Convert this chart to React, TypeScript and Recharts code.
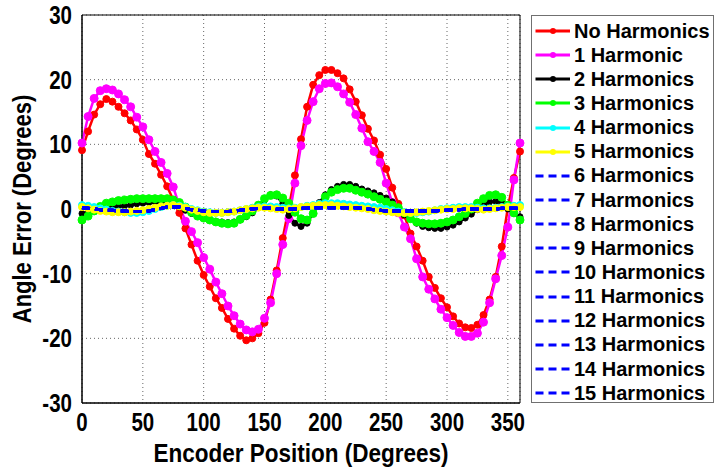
import { LineChart, Line, XAxis, YAxis, CartesianGrid, ReferenceArea } from "recharts"

const positions = [
  0, 5, 10, 15, 20, 25, 30, 35, 40, 45, 50, 55,
  60, 65, 70, 75, 80, 85, 90, 95, 100, 105, 110, 115,
  120, 125, 130, 135, 140, 145, 150, 155, 160, 165, 170, 175,
  180, 185, 190, 195, 200, 205, 210, 215, 220, 225, 230, 235,
  240, 245, 250, 255, 260, 265, 270, 275, 280, 285, 290, 295,
  300, 305, 310, 315, 320, 325, 330, 335, 340, 345, 350, 355,
  360,
]

const noHarmonics = [
  9.1, 12.0, 14.6, 16.2, 17.0, 16.6, 15.8, 14.8, 13.7, 12.3, 10.7, 8.5,
  7.0, 5.3, 3.5, 1.4, -0.6, -3.0, -5.5, -8.0, -10.2, -12.0, -13.8, -15.3,
  -17.0, -18.5, -19.6, -20.3, -20.0, -19.2, -17.6, -14.0, -9.5, -4.5, 0.2, 5.2,
  10.8, 15.8, 19.2, 20.7, 21.5, 21.5, 21.0, 20.2, 18.5, 16.6, 14.5, 12.4,
  10.6, 8.4, 6.2, 3.3, 0.8, -1.0, -3.8, -5.8, -8.0, -10.5, -12.2, -13.8,
  -15.2, -16.6, -17.7, -18.3, -18.4, -17.9, -16.4, -14.0, -10.5, -5.8, 0.2, 4.8,
  8.9,
]

const oneHarmonic = [
  10.2, 14.3, 17.1, 18.3, 18.6, 18.4, 17.8, 16.9, 15.8, 14.2, 12.7, 10.7,
  8.9, 7.2, 5.5, 3.4, 0.5, -1.9, -3.5, -5.2, -7.5, -9.3, -11.3, -13.1,
  -15.0, -16.5, -17.8, -18.7, -19.0, -18.6, -16.9, -14.5, -10.0, -5.5, -1.5, 4.0,
  9.8, 13.7, 16.6, 18.6, 19.4, 19.5, 18.9, 17.8, 16.5, 14.6, 12.5, 10.4,
  8.9, 7.2, 4.0, 1.0, -0.6, -2.8, -4.6, -7.7, -10.5, -12.4, -13.9, -15.5,
  -16.8, -18.0, -19.1, -19.7, -19.7, -19.2, -17.5, -14.5, -10.8, -7.2, -2.8, 4.5,
  10.2,
]

const twoHarmonics = [
  -0.7, -0.5, -0.2, 0.0, 0.2, 0.3, 0.4, 0.5, 0.6, 0.8, 0.9, 1.0,
  1.1, 1.1, 1.0, 0.7, 0.3, -0.2, -0.7, -1.1, -1.4, -1.7, -1.9, -2.0,
  -2.1, -2.0, -1.7, -1.2, -0.6, 0.3, 1.4, 2.2, 2.0, 0.8, -1.0, -2.2,
  -2.7, -2.2, -0.6, 1.0, 2.2, 3.0, 3.5, 3.8, 3.8, 3.5, 3.1, 2.8,
  2.5, 2.1, 1.7, 1.1, 0.1, -0.9, -1.5, -2.2, -2.7, -2.9, -3.0, -3.0,
  -2.8, -2.5, -2.0, -1.4, -0.8, -0.1, 0.6, 1.1, 1.2, 0.9, 0.0, -0.7,
  -1.2,
]

const threeHarmonics = [
  -1.7, -1.1, -0.3, 0.4, 0.9, 1.1, 1.3, 1.4, 1.5, 1.6, 1.6, 1.6,
  1.6, 1.6, 1.6, 1.4, 1.0, 0.3, -0.5, -1.1, -1.4, -1.7, -2.0, -2.2,
  -2.3, -2.2, -1.6, -1.0, -0.3, 0.6, 1.6, 2.1, 2.2, 1.7, 0.9, -0.5,
  -1.5, -1.7, -0.7, 0.6, 1.9, 2.6, 3.0, 3.2, 3.2, 2.9, 2.6, 2.3,
  1.9, 1.5, 1.1, 0.6, 0.2, -0.6, -1.5, -2.0, -2.2, -2.3, -2.3, -2.2,
  -2.0, -1.7, -1.2, -0.7, 0.0, 0.9, 1.6, 2.1, 2.2, 1.8, 0.6, -0.6,
  -1.7,
]

const fourHarmonics = [
  0.6, 0.5, 0.3, 0.1, -0.1, -0.3, -0.4, -0.5, -0.6, -0.6, -0.5, -0.3,
  0.0, 0.3, 0.5, 0.6, 0.5, 0.3, 0.0, -0.2, -0.4, -0.5, -0.6, -0.6,
  -0.5, -0.4, -0.2, 0.0, 0.2, 0.3, 0.4, 0.4, 0.3, 0.2, 0.1, 0.2,
  0.3, 0.5, 0.6, 0.8, 0.9, 0.9, 0.9, 0.8, 0.7, 0.6, 0.5, 0.4,
  0.3, 0.2, 0.0, -0.2, -0.4, -0.5, -0.6, -0.6, -0.5, -0.4, -0.2, 0.0,
  0.1, 0.2, 0.3, 0.3, 0.3, 0.2, 0.1, 0.1, 0.2, 0.3, 0.4, 0.5,
  0.6,
]

const fiveHarmonics = [
  0.3, 0.1, -0.1, -0.3, -0.4, -0.5, -0.5, -0.5, -0.4, -0.3, -0.2, 0.0,
  0.2, 0.4, 0.5, 0.6, 0.4, 0.2, -0.1, -0.3, -0.5, -0.6, -0.6, -0.6,
  -0.5, -0.4, -0.2, 0.0, 0.1, 0.2, 0.2, 0.1, 0.0, -0.1, 0.0, 0.1,
  0.3, 0.4, 0.5, 0.6, 0.6, 0.6, 0.5, 0.4, 0.3, 0.2, 0.1, 0.0,
  -0.2, -0.3, -0.4, -0.5, -0.6, -0.6, -0.6, -0.5, -0.4, -0.3, -0.2, -0.1,
  0.0, 0.0, 0.1, 0.1, 0.1, 0.0, -0.1, 0.0, 0.1, 0.2, 0.3, 0.3,
  0.3,
]

// 6 to 15 harmonics all sit on the same trace
const highHarmonics = [
  0.2, 0.1, 0.0, -0.1, -0.2, -0.2, -0.3, -0.3, -0.4, -0.4, -0.4, -0.3,
  -0.1, 0.1, 0.3, 0.3, 0.3, 0.1, -0.1, -0.2, -0.3, -0.4, -0.4, -0.4,
  -0.4, -0.3, -0.2, -0.1, 0.0, 0.1, 0.1, 0.1, 0.0, 0.0, 0.0, 0.0,
  0.1, 0.1, 0.2, 0.2, 0.2, 0.2, 0.2, 0.2, 0.2, 0.2, 0.1, 0.0,
  -0.1, -0.2, -0.3, -0.3, -0.3, -0.3, -0.3, -0.3, -0.3, -0.3, -0.3, -0.2,
  -0.2, -0.1, -0.1, 0.0, 0.0, 0.0, 0.0, 0.0, 0.0, 0.1, 0.1, 0.1,
  0.1,
]

const xTicks = [0, 50, 100, 150, 200, 250, 300, 350]
const yTicks = [-30, -20, -10, 0, 10, 20, 30]

const solidSeries = [
  { key: "h0", name: "No Harmonics", color: "#ff0000", values: noHarmonics, r: 3.5 },
  { key: "h1", name: "1 Harmonic", color: "#ff00ff", values: oneHarmonic, r: 4 },
  { key: "h2", name: "2 Harmonics", color: "#000000", values: twoHarmonics, r: 3 },
  { key: "h3", name: "3 Harmonics", color: "#00ff00", values: threeHarmonics, r: 4 },
  { key: "h4", name: "4 Harmonics", color: "#00ffff", values: fourHarmonics, r: 3.5 },
  { key: "h5", name: "5 Harmonics", color: "#ffff00", values: fiveHarmonics, r: 3.5 },
]

const dashedNames = [
  "6 Harmonics", "7 Harmonics", "8 Harmonics", "9 Harmonics", "10 Harmonics",
  "11 Harmonics", "12 Harmonics", "13 Harmonics", "14 Harmonics", "15 Harmonics",
]

const data = positions.map((pos, i) => {
  const row: Record<string, number> = { pos }
  solidSeries.forEach((s) => (row[s.key] = s.values[i]))
  dashedNames.forEach((_, j) => (row["d" + j] = highHarmonics[i]))
  return row
})

const font = "'Liberation Sans', Arial, sans-serif"

// axis text in the original is a tall, narrow bold face
const XTick = (props: any) => (
  <text transform={`translate(${props.x},${props.y}) scale(0.82,1)`} textAnchor="middle" dy="0.71em"
    fontFamily={font} fontWeight="bold" fontSize={25} fill="#000">
    {props.payload.value}
  </text>
)

const YTick = (props: any) => (
  <text transform={`translate(${props.x},${props.y}) scale(0.82,1)`} textAnchor="end" dy="0.36em"
    fontFamily={font} fontWeight="bold" fontSize={25} fill="#000">
    {props.payload.value}
  </text>
)

const yTitle = (props: any) => {
  const vb = props.viewBox
  const cx = vb.x + 22
  const cy = vb.y + vb.height / 2
  return (
    <text transform={`translate(${cx},${cy}) rotate(-90) scale(0.88,1)`} textAnchor="middle" dy="0.36em"
      fontFamily={font} fontWeight="bold" fontSize={25} fill="#000">
      Angle Error (Degrees)
    </text>
  )
}

const xTitle = (props: any) => {
  const vb = props.viewBox
  return (
    <text transform={`translate(${vb.x + vb.width / 2},${vb.y + 50}) scale(0.9,1)`} textAnchor="middle" dy="0.36em"
      fontFamily={font} fontWeight="bold" fontSize={25} fill="#000">
      Encoder Position (Degrees)
    </text>
  )
}

function LegendBox() {
  const rows = [
    ...solidSeries.map((s) => ({ name: s.name, color: s.color, dashed: false })),
    ...dashedNames.map((n) => ({ name: n, color: "#0000ff", dashed: true })),
  ]
  return (
    <div style={{
      position: "absolute", left: 531, top: 15, width: 183, height: 388, boxSizing: "border-box",
      border: "1.5px solid #707070", background: "#fff", paddingTop: 3,
    }}>
      {rows.map((r) => (
        <div key={r.name} style={{ height: 24.15, display: "flex", alignItems: "center" }}>
          <svg width={42} height={24} style={{ flex: "none" }}>
            <line x1={3.5} x2={38} y1={12} y2={12} stroke={r.color} strokeWidth={3}
              strokeDasharray={r.dashed ? "8 5" : undefined} />
            {!r.dashed && <circle cx={21} cy={12} r={3} fill={r.color} />}
          </svg>
          <span style={{ fontFamily: font, fontWeight: "bold", fontSize: 20, color: "#000", whiteSpace: "nowrap" }}>
            {r.name}
          </span>
        </div>
      ))}
    </div>
  )
}

export default function App() {
  return (
    <div style={{ position: "absolute", left: 0, top: 0, width: 725, height: 469, background: "#fff" }}>
      <LineChart width={725} height={469} data={data} margin={{ top: 15, right: 205, left: 0, bottom: 0 }}>
        <CartesianGrid stroke="#666" strokeDasharray="1 3" />
        <XAxis
          dataKey="pos"
          type="number"
          domain={[0, 360]}
          ticks={xTicks}
          height={66}
          tickLine={false}
          tickMargin={4}
          axisLine={{ stroke: "#000", strokeWidth: 1 }}
          tick={<XTick />}
          label={{ content: xTitle }}
        />
        <YAxis
          type="number"
          domain={[-30, 30]}
          ticks={yTicks}
          width={82}
          tickLine={false}
          tickMargin={4}
          axisLine={{ stroke: "#000", strokeWidth: 1 }}
          tick={<YTick />}
          label={{ content: yTitle }}
        />
        <ReferenceArea x1={0} x2={360} y1={-30} y2={30} fill="none" stroke="#000" strokeWidth={1} />
        {solidSeries.map((s) => (
          <Line
            key={s.key}
            dataKey={s.key}
            name={s.name}
            type="linear"
            stroke={s.color}
            strokeWidth={2.5}
            dot={{ r: s.r, fill: s.color, stroke: s.color, strokeWidth: 1 }}
            isAnimationActive={false}
          />
        ))}
        {dashedNames.map((n, j) => (
          <Line
            key={n}
            dataKey={"d" + j}
            name={n}
            type="linear"
            stroke="#0000ff"
            strokeWidth={3}
            strokeDasharray="8 5"
            dot={false}
            zIndex={1000}
            isAnimationActive={false}
          />
        ))}
      </LineChart>
      <LegendBox />
    </div>
  )
}
